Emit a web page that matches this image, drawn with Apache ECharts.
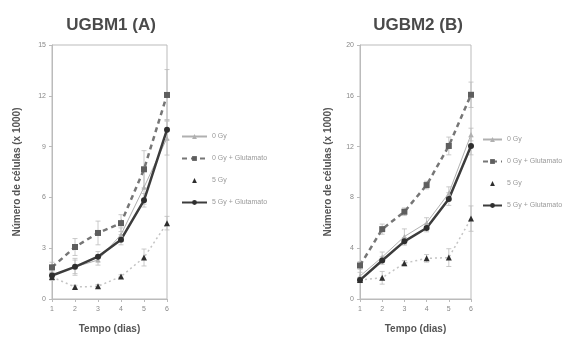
<!DOCTYPE html>
<html><head><meta charset="utf-8">
<script src="https://cdn.jsdelivr.net/npm/echarts@6/dist/echarts.min.js"></script>
<style>html,body{margin:0;padding:0;background:#fff}#c{width:569px;height:339px}</style>
</head><body><div id="c"></div>
<script>
const days = [1, 2, 3, 4, 5, 6];
const seriesNames = ['0 Gy', '0 Gy + Glutamato', '5 Gy', '5 Gy + Glutamato'];
// UGBM1 (A)
const a_0Gy = [1.4, 1.9, 2.3, 3.8, 6.6, 9.5];
const a_0GyGlu = [1.87, 3.07, 3.9, 4.48, 7.66, 12.05];
const a_5Gy = [1.3, 0.71, 0.75, 1.33, 2.45, 4.48];
const a_5GyGlu = [1.39, 1.9, 2.5, 3.5, 5.83, 10.0];
const a_err_0Gy = [0.3, 0.4, 0.3, 0.4, 1.0, 1.0];
const a_err_0GyGlu = [0.3, 0.5, 0.7, 0.5, 1.1, 1.5];
const a_err_5Gy = [0.2, 0.1, 0.1, 0.1, 0.5, 0.4];
const a_err_5GyGlu = [0.2, 0.5, 0.3, 0.3, 0.4, 0.6];
// UGBM2 (B)
const b_0Gy = [1.8, 3.3, 4.92, 6.0, 8.33, 12.95];
const b_0GyGlu = [2.64, 5.5, 6.87, 8.97, 12.05, 16.08];
const b_5Gy = [1.5, 1.67, 2.82, 3.2, 3.26, 6.33];
const b_5GyGlu = [1.49, 3.03, 4.54, 5.59, 7.87, 12.05];
const b_err_0Gy = [0.3, 0.4, 0.6, 0.4, 0.5, 0.5];
const b_err_0GyGlu = [0.3, 0.4, 0.3, 0.3, 0.7, 1.0];
const b_err_5Gy = [0.2, 0.5, 0.2, 0.3, 0.7, 1.0];
const b_err_5GyGlu = [0.2, 0.3, 0.3, 0.3, 0.5, 0.7];
const yTicksA = {min: 0, max: 15, interval: 3};
const yTicksB = {min: 0, max: 20, interval: 4};

const styles = [
  {line: {width: 1, type: 'solid', color: '#b0b0b0'}, symbol: 'triangle', size: 5, mcolor: '#b0b0b0'},
  {line: {width: 2.5, type: [5, 4], color: '#767676'}, symbol: 'rect', size: 6, mcolor: '#5e5e5e'},
  {line: {width: 1.5, type: [2, 3], color: '#c4c4c4'}, symbol: 'triangle', size: 6, mcolor: '#2e2e2e'},
  {line: {width: 2.5, type: 'solid', color: '#3c3c3c'}, symbol: 'circle', size: 6, mcolor: '#2e2e2e'}
];

function lineSeries(idx, vals, gi) {
  const s = styles[idx];
  return {
    name: seriesNames[idx], type: 'line', xAxisIndex: gi, yAxisIndex: gi,
    data: days.map((d, i) => [d, vals[i]]),
    symbol: s.symbol, symbolSize: s.size,
    itemStyle: {color: s.mcolor},
    lineStyle: s.line, z: 3, animation: false
  };
}
function errSeries(vals, errs, gi) {
  return {
    type: 'custom', xAxisIndex: gi, yAxisIndex: gi, silent: true, animation: false, z: 2,
    data: days.map((d, i) => [d, vals[i] - errs[i], vals[i] + errs[i]]),
    renderItem: function (params, api) {
      const lo = api.coord([api.value(0), api.value(1)]);
      const hi = api.coord([api.value(0), api.value(2)]);
      const w = 2.5;
      const st = {stroke: '#bdbdbd', lineWidth: 0.8};
      return {type: 'group', children: [
        {type: 'line', shape: {x1: lo[0], y1: lo[1], x2: hi[0], y2: hi[1]}, style: st},
        {type: 'line', shape: {x1: lo[0] - w, y1: lo[1], x2: lo[0] + w, y2: lo[1]}, style: st},
        {type: 'line', shape: {x1: hi[0] - w, y1: hi[1], x2: hi[0] + w, y2: hi[1]}, style: st}
      ]};
    }
  };
}
function xAx(gi) {
  return {
    type: 'value', gridIndex: gi, min: 1, max: 6, interval: 1,
    name: 'Tempo (dias)', nameLocation: 'middle', nameGap: 25,
    nameTextStyle: {fontFamily: 'Liberation Sans', fontWeight: 'bold', fontSize: 10, color: '#555'},
    axisLine: {lineStyle: {color: '#bbb', width: 1}},
    axisTick: {show: true, inside: false, length: 3, lineStyle: {color: '#bbb'}},
    axisLabel: {fontSize: 7, color: '#888', margin: 7, fontFamily: 'Liberation Sans'},
    splitLine: {show: false}
  };
}
function yAx(gi, t, gap) {
  return {
    type: 'value', gridIndex: gi, min: t.min, max: t.max, interval: t.interval,
    name: 'Número de células (x 1000)', nameLocation: 'middle', nameGap: gap,
    nameTextStyle: {fontFamily: 'Liberation Sans', fontWeight: 'bold', fontSize: 10, color: '#555'},
    axisLine: {show: true, lineStyle: {color: '#bbb', width: 1}},
    axisTick: {show: true, length: 3, lineStyle: {color: '#bbb'}},
    axisLabel: {fontSize: 7, color: '#888', margin: 6, fontFamily: 'Liberation Sans'},
    splitLine: {show: false}
  };
}
function legend(left, top, w) {
  return {
    orient: 'vertical', left: left, top: top, itemGap: 15, itemWidth: w, itemHeight: 6,
    data: seriesNames.map(n => n === '5 Gy' ? {name: n, lineStyle: {opacity: 0}} : {name: n}),
    textStyle: {fontSize: 7, color: '#999', fontFamily: 'Liberation Sans'},
    selectedMode: false
  };
}

const chart = echarts.init(document.getElementById('c'), null, {renderer: 'canvas'});
const series = [];
[[a_0Gy, a_err_0Gy], [a_0GyGlu, a_err_0GyGlu], [a_5Gy, a_err_5Gy], [a_5GyGlu, a_err_5GyGlu]].forEach((p, i) => {
  series.push(errSeries(p[0], p[1], 0));
  series.push(lineSeries(i, p[0], 0));
});
[[b_0Gy, b_err_0Gy], [b_0GyGlu, b_err_0GyGlu], [b_5Gy, b_err_5Gy], [b_5GyGlu, b_err_5GyGlu]].forEach((p, i) => {
  series.push(errSeries(p[0], p[1], 1));
  series.push(lineSeries(i, p[0], 1));
});
chart.setOption({
  animation: false,
  backgroundColor: '#fff',
  title: [
    {text: 'UGBM1 (A)', left: 106, top: 12, textAlign: 'center',
     textStyle: {fontFamily: 'Liberation Sans', fontWeight: 'bold', fontSize: 17, color: '#4a4a4a'}},
    {text: 'UGBM2 (B)', left: 413, top: 12, textAlign: 'center',
     textStyle: {fontFamily: 'Liberation Sans', fontWeight: 'bold', fontSize: 17, color: '#4a4a4a'}}
  ],
  grid: [
    {left: 52, right: 402, top: 45, bottom: 35, show: true, borderColor: '#bbb', borderWidth: 1, containLabel: false},
    {left: 360, right: 98, top: 45, bottom: 34, show: true, borderColor: '#bbb', borderWidth: 1, containLabel: false}
  ],
  xAxis: [xAx(0), xAx(1)],
  yAxis: [yAx(0, yTicksA, 30), yAx(1, yTicksB, 27)],
  legend: [legend(176, 128, 25), legend(477, 131, 19)],
  series: series
});
</script></body></html>
